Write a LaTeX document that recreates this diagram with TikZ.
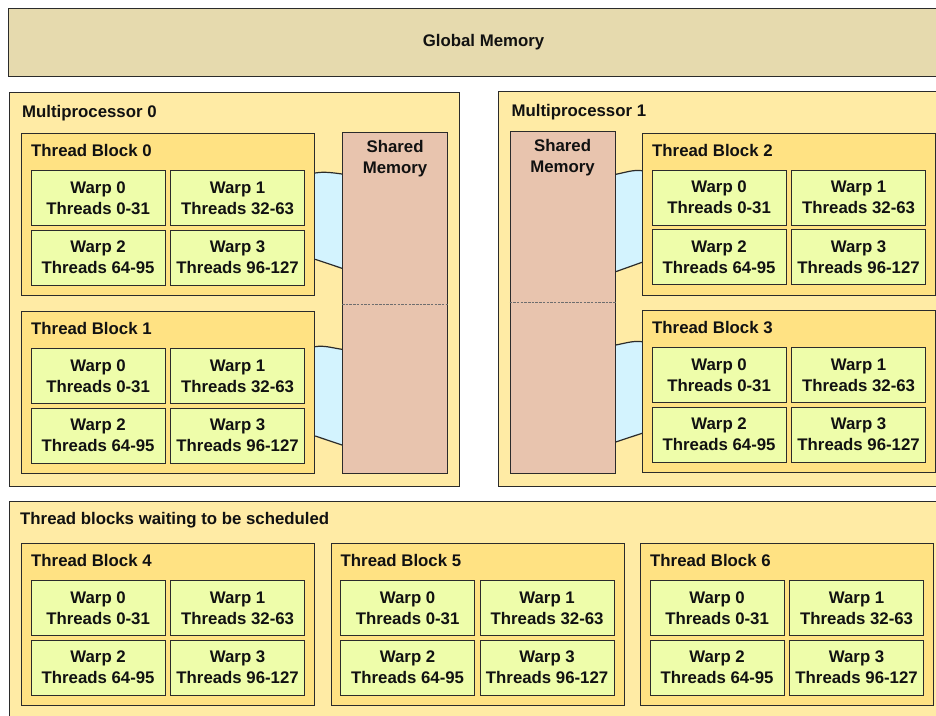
\documentclass[tikz,border=0pt]{standalone}
\usepackage{fontspec}
\setmainfont{Liberation Sans}
\definecolor{gmfill}{HTML}{E6DAAE}
\definecolor{mpfill}{HTML}{FFEBA5}
\definecolor{tbfill}{HTML}{FFE283}
\definecolor{warpfill}{HTML}{EEFDAA}
\definecolor{smfill}{HTML}{E8C4AE}
\definecolor{linkfill}{HTML}{D3F3FE}
\definecolor{edge}{HTML}{2B2B2B}
\definecolor{ink}{HTML}{111111}
\definecolor{divider}{HTML}{6E6E6E}

\pgfdeclarelayer{back}
\pgfdeclarelayer{links}
\pgfsetlayers{back,links,main}

\tikzset{
  boxbase/.style={draw=edge, line width=1.2pt, inner sep=0pt, anchor=north west},
  region/.style={boxbase, fill=mpfill},
  tblock/.style={boxbase, fill=tbfill, minimum width=293pt, minimum height=162pt},
  warp/.style={boxbase, fill=warpfill, minimum width=134pt, minimum height=55pt,
    align=center, text=ink, font=\fontsize{16.8}{21}\selectfont\bfseries},
  label/.style={anchor=base west, inner sep=0pt, text=ink,
    font=\fontsize{16.8}{21}\selectfont\bfseries},
  smem/.style={boxbase, fill=smfill, minimum width=105pt, minimum height=341pt},
  linkfill/.style={fill=linkfill},
  linkedge/.style={draw=edge, line width=1.2pt},
  split/.style={draw=divider, line width=1pt, dash pattern=on 2.5pt off 1.2pt},
}

% a thread block with its title and four warps
\newcommand\threadblock[4]{%
  \node[tblock] (#1) at (#2,#3) {};
  \node[label] (#1t) at ([xshift=10pt,yshift=-23.7pt]#1.north west) {Thread Block #4};
  \node[warp] (#1a) at ([xshift=9.5pt,yshift=-37pt]#1.north west) {Warp 0\\Threads 0-31};
  \node[warp] (#1b) at ([xshift=149pt,yshift=-37pt]#1.north west) {Warp 1\\Threads 32-63};
  \node[warp] (#1c) at ([xshift=9.5pt,yshift=-96.5pt]#1.north west) {Warp 2\\Threads 64-95};
  \node[warp] (#1d) at ([xshift=149pt,yshift=-96.5pt]#1.north west) {Warp 3\\Threads 96-127};
}

% band between a block edge and a shared memory edge:
% #1 name, #2 left end (top), #3 right end (top), #4 right end (bottom), #5 left end (bottom)
\newcommand\memlink[5]{%
  \coordinate (#1lt) at (#2);
  \coordinate (#1rt) at (#3);
  \coordinate (#1rb) at (#4);
  \coordinate (#1lb) at (#5);
  \path[linkfill] (#1lt) .. controls ([xshift=9pt,yshift=1.6pt]#1lt) and ([xshift=-9pt,yshift=1.2pt]#1rt) .. (#1rt)
    -- (#1rb) -- (#1lb) -- cycle;
  \path[linkedge] (#1lt) .. controls ([xshift=9pt,yshift=1.6pt]#1lt) and ([xshift=-9pt,yshift=1.2pt]#1rt) .. (#1rt);
  \path[linkedge] (#1lb) -- (#1rb);
}

\begin{document}
\begin{tikzpicture}[x=1pt,y=-1pt]
\useasboundingbox (0,0) rectangle (936,715);
\clip (0,0) rectangle (936,715);

\begin{pgfonlayer}{back}
% global memory
\node[boxbase, fill=gmfill, minimum width=952pt, minimum height=68pt] (gm) at (8,8) {};
% the two multiprocessors and the waiting area
\node[region, minimum width=450pt, minimum height=394pt] (mp0) at (9,92) {};
\node[region, minimum width=470pt, minimum height=395pt] (mp1) at (497.5,91) {};
\node[region, minimum width=960pt, minimum height=240pt] (wait) at (8.5,501) {};
\end{pgfonlayer}

\node[text=ink, font=\fontsize{16.8}{21}\selectfont\bfseries] (gmt) at (483.5,42.5) {Global Memory};

% multiprocessor 0
\node[label] (mp0t) at ([xshift=13pt,yshift=-25pt]mp0.north west) {Multiprocessor 0};
\threadblock{tb0}{21}{133}{0}
\threadblock{tb1}{21}{311}{1}
\node[smem] (sm0) at (342,132) {};
\node[align=center, text=ink, font=\fontsize{16.8}{20.5}\selectfont\bfseries, anchor=north]
  (sm0t) at ([yshift=-5pt]sm0.north) {Shared\\Memory};
\draw[split] ([yshift=-1.3pt]sm0.west) -- ([yshift=-1.3pt]sm0.east);

% multiprocessor 1
\node[label] (mp1t) at ([xshift=14pt,yshift=-25pt]mp1.north west) {Multiprocessor 1};
\threadblock{tb2}{642}{132.5}{2}
\threadblock{tb3}{642}{310}{3}
\node[smem, minimum height=342pt] (sm1) at (509.5,131) {};
\node[align=center, text=ink, font=\fontsize{16.8}{20.5}\selectfont\bfseries, anchor=north]
  (sm1t) at ([yshift=-5pt]sm1.north) {Shared\\Memory};
\draw[split] ([yshift=-0.3pt]sm1.west) -- ([yshift=-0.3pt]sm1.east);

% bands joining each resident block to its shared memory
\begin{pgfonlayer}{links}
\memlink{ka}{[yshift=-40pt]tb0.north east}{[yshift=-42pt]sm0.north west}
        {[yshift=-136.3pt]sm0.north west}{[yshift=-126.3pt]tb0.north east}
\memlink{kb}{[yshift=-35.7pt]tb1.north east}{[yshift=-217.3pt]sm0.north west}
        {[yshift=-313pt]sm0.north west}{[yshift=-125pt]tb1.north east}
\memlink{kc}{[yshift=-43.3pt]sm1.north east}{[yshift=-38.2pt]tb2.north west}
        {[yshift=-129.8pt]tb2.north west}{[yshift=-140.7pt]sm1.north east}
\memlink{kd}{[yshift=-214pt]sm1.north east}{[yshift=-31.7pt]tb3.north west}
        {[yshift=-123.3pt]tb3.north west}{[yshift=-311pt]sm1.north east}
\end{pgfonlayer}

% blocks still waiting for a multiprocessor
\node[label] (waitt) at ([xshift=11.5pt,yshift=-23pt]wait.north west) {Thread blocks waiting to be scheduled};
\threadblock{tb4}{21}{543}{4}
\threadblock{tb5}{330.5}{543}{5}
\threadblock{tb6}{640}{543}{6}
\end{tikzpicture}
\end{document}
